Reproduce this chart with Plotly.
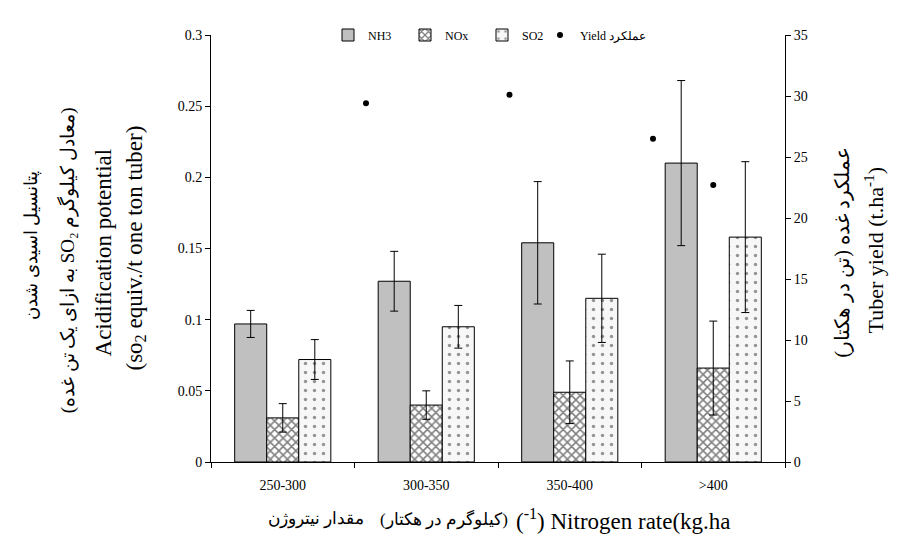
import plotly.graph_objects as go

categories = ["250-300", "300-350", "350-400", ">400"]
nh3 = [0.097, 0.127, 0.154, 0.210]
nh3_err = [0.0095, 0.021, 0.043, 0.058]
nox = [0.031, 0.040, 0.049, 0.066]
nox_err = [0.010, 0.010, 0.022, 0.033]
so2 = [0.072, 0.095, 0.115, 0.158]
so2_err = [0.014, 0.015, 0.031, 0.053]
yield_x = [1.08, 2.08, 3.08, 3.5]
yield_t = [29.4, 30.1, 26.5, 22.7]

W, H = 906, 537
L, R, T, B = 203, 777, 22, 454
FONT = "Liberation Serif, 'Times New Roman', Times, serif"
RLE, PDF = "\u202b", "\u202c"

def px(x):
    return (x - L) / (R - L)

def py(y):
    return (B - y) / (B - T)

fig = go.Figure()
eb = lambda a: dict(type="data", array=a, color="black", thickness=1, width=4)
fig.add_trace(go.Bar(name="NH3", x=categories, y=nh3, error_y=eb(nh3_err),
                     marker=dict(color="#c0c0c0", line=dict(color="black", width=1))))
fig.add_trace(go.Bar(name="NOx", x=categories, y=nox, error_y=eb(nox_err),
                     marker=dict(color="white", line=dict(color="black", width=1),
                                 pattern=dict(shape="x", size=6, solidity=0.45,
                                              fgcolor="#000", bgcolor="white"))))
fig.add_trace(go.Bar(name="SO2", x=categories, y=so2, error_y=eb(so2_err),
                     marker=dict(color="#f7f7f7", line=dict(color="black", width=1),
                                 pattern=dict(shape=".", size=9, solidity=0.12,
                                              fgcolor="#333", bgcolor="#f7f7f7"))))
fig.add_trace(go.Scatter(name="Yield عملکرد", x=yield_x, y=yield_t, mode="markers",
                         xaxis="x2", yaxis="y2", legend="legend2",
                         marker=dict(color="black", size=6)))

axis_common = dict(showline=True, linecolor="black", linewidth=1, ticks="outside",
                   ticklen=5, tickcolor="black", showgrid=False, zeroline=False,
                   tickfont=dict(family=FONT, size=14, color="black"))

fig.update_layout(
    width=W, height=H,
    margin=dict(l=L, r=W - R, t=T, b=H - B),
    paper_bgcolor="white", plot_bgcolor="white",
    barmode="group", bargap=0.33, bargroupgap=0,
    font=dict(family=FONT, color="black"),
    xaxis=dict(**axis_common, tickson="boundaries", ticklabelstandoff=10),
    yaxis=dict(**axis_common, range=[0, 0.3], dtick=0.05),
    xaxis2=dict(overlaying="x", range=[0, 4], visible=False),
    yaxis2=dict(**axis_common, overlaying="y", side="right", range=[0, 35], dtick=5),
    legend=dict(orientation="h", x=px(320), y=1.0, xanchor="left", yanchor="middle",
                font=dict(family=FONT, size=12), bgcolor="rgba(0,0,0,0)",
                entrywidth=32, itemwidth=30, traceorder="normal"),
    legend2=dict(orientation="h", x=px(532), y=1.0, xanchor="left", yanchor="middle",
                 font=dict(family=FONT, size=12), bgcolor="rgba(0,0,0,0)",
                 itemwidth=30),
    showlegend=True,
)

ann = []
def add(text, x, y, size, angle=0, xanchor="center"):
    ann.append(dict(text=text, x=px(x), y=py(y), xref="paper", yref="paper",
                    showarrow=False, textangle=angle, xanchor=xanchor, yanchor="middle",
                    font=dict(family=FONT, size=size, color="black")))

add(RLE + "پتانسیل اسیدی شدن" + PDF, 24, 235, 18, -90)
add(RLE + "(معادل کیلوگرم SO₂ به ازای یک تن غده)" + PDF, 59, 250, 19, -90)
add("Acidification potential", 95, 242, 23, -90)
add("(so<sub>2</sub> equiv./t one ton tuber)", 127, 238, 23, -90)
add(RLE + "عملکرد غده (تن در هکتار)" + PDF, 834, 242, 20, -90)
add("Tuber yield (t.ha<sup>-1</sup>)", 866, 240, 22, -90)
add(RLE + "مقدار نیتروژن" + PDF, 258, 512, 17, xanchor="left")
add(RLE + "(کیلوگرم در هکتار)" + PDF, 502, 512, 17, xanchor="right")
add("(<sup>-1</sup>) Nitrogen rate(kg.ha", 506, 512, 23, xanchor="left")
fig.update_layout(annotations=ann)

fig.write_html("out.html")
